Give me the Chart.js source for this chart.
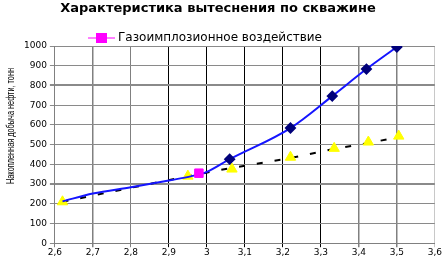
<!DOCTYPE html>
<html>
<head>
<meta charset="utf-8">
<script src="https://cdn.jsdelivr.net/npm/chart.js@4"></script>
<style>
html,body{margin:0;padding:0;background:#fff}
#wrap{width:442px;height:258px}
</style>
</head>
<body>
<div id="wrap"><canvas id="chart"></canvas></div>
<script>
// кривая (синяя)
let curveX=[2.62,2.7,2.8,2.9,2.96,3.0,3.06,3.22,3.33,3.42,3.5];
let curveY=[212,252,284,318,340,362,426,584,746,883,995];
let curveMarks=[0,0,0,0,0,0,1,1,1,1,1];
// факт без воздействия (жёлтые треугольники)
let factX=[2.62,2.95,3.066,3.22,3.335,3.425,3.505];
let factY=[210,340,376,436,481,513,543];
// тренд (чёрный пунктир)
let trendX=[2.62,2.95,3.06,3.22,3.33,3.43,3.51];
let trendY=[210,340,380,432,476,510,540];
// воздействие
let gioX=[2.979];
let gioY=[355];

let title="Характеристика вытеснения по скважине";
let legendLabel="Газоимплозионное воздействие";
let yTitle="Накопленная добыча нефти, тонн";

const pts=(xs,ys)=>xs.map((x,i)=>({x:x,y:ys[i]}));
const fmt=v=>(+v.toFixed(1)).toString().replace(".",",");

// заголовок, легенда и подпись оси рисуются вручную
const extras={
 id:"extras",
 afterDraw(c){
  let ctx=c.ctx;
  ctx.save();
  ctx.fillStyle="#000";ctx.textBaseline="middle";
  ctx.font="bold 13px 'DejaVu Sans'";ctx.textAlign="center";
  ctx.fillText(title,218,9);
  let cy=38;
  ctx.strokeStyle="#ff00ff";ctx.lineWidth=1;
  ctx.beginPath();ctx.moveTo(88,cy);ctx.lineTo(115,cy);ctx.stroke();
  ctx.fillStyle="#ff00ff";ctx.fillRect(96,cy-5,11,10);
  ctx.fillStyle="#000";ctx.font="12px 'DejaVu Sans'";ctx.textAlign="left";
  ctx.fillText(legendLabel,118,cy);
  ctx.translate(11,126);ctx.rotate(-Math.PI/2);
  ctx.font="10px 'Liberation Sans'";
  let w=ctx.measureText(yTitle).width;
  ctx.scale(116/w,1.15);
  ctx.textAlign="center";
  ctx.fillText(yTitle,0,0);
  ctx.restore();
 }
};

new Chart(document.getElementById("chart"),{
 type:"scatter",
 data:{datasets:[
  {label:legendLabel,data:pts(gioX,gioY),backgroundColor:"#ff00ff",borderColor:"#ff00ff",
   pointStyle:"rect",pointRadius:6,order:0},
  {label:"curve",data:pts(curveX,curveY),showLine:true,borderColor:"#1515ff",borderWidth:2,
   cubicInterpolationMode:"monotone",backgroundColor:"#00007a",pointBorderColor:"#00007a",
   pointStyle:"rectRot",pointRadius:curveMarks.map(m=>m?4.5:0),order:1},
  {label:"fact",data:pts(factX,factY),backgroundColor:"#ffff00",borderColor:"#ffff00",
   pointStyle:"triangle",pointRadius:6,order:2},
  {label:"trend",data:pts(trendX,trendY),showLine:true,borderColor:"#000",borderWidth:2,
   borderDash:[6,12],pointRadius:0,order:3}
 ]},
 options:{
  animation:false,responsive:true,maintainAspectRatio:false,
  layout:{padding:{left:21,right:6,top:46,bottom:0}},
  plugins:{
   title:{display:false},
   legend:{display:false},
   tooltip:{enabled:false}
  },
  scales:{
   x:{type:"linear",min:2.6,max:3.6,
    ticks:{stepSize:0.1,color:"#000",font:{family:"DejaVu Sans",size:9},callback:v=>fmt(v),padding:0},
    grid:{color:c=>{let v=+c.tick.value.toFixed(1);return v>=2.9&&v<=3.3?"#000":(v==3.6?"#c8c8c8":"#808080")},
     lineWidth:c=>{let v=+c.tick.value.toFixed(1);return v==2.7||v==3.4||v==3.5?1.5:1},tickLength:4},
    border:{color:"#808080"}},
   y:{min:0,max:1000,
    ticks:{stepSize:100,color:"#000",font:{family:"DejaVu Sans",size:9},padding:3,callback:v=>String(v)},
    grid:{color:"#8a8a8a",lineWidth:c=>(c.tick.value==300||c.tick.value==800)?2:1,tickLength:5},
    border:{color:"#808080"}}
  }
 },
 plugins:[extras]
});
</script>
</body>
</html>
